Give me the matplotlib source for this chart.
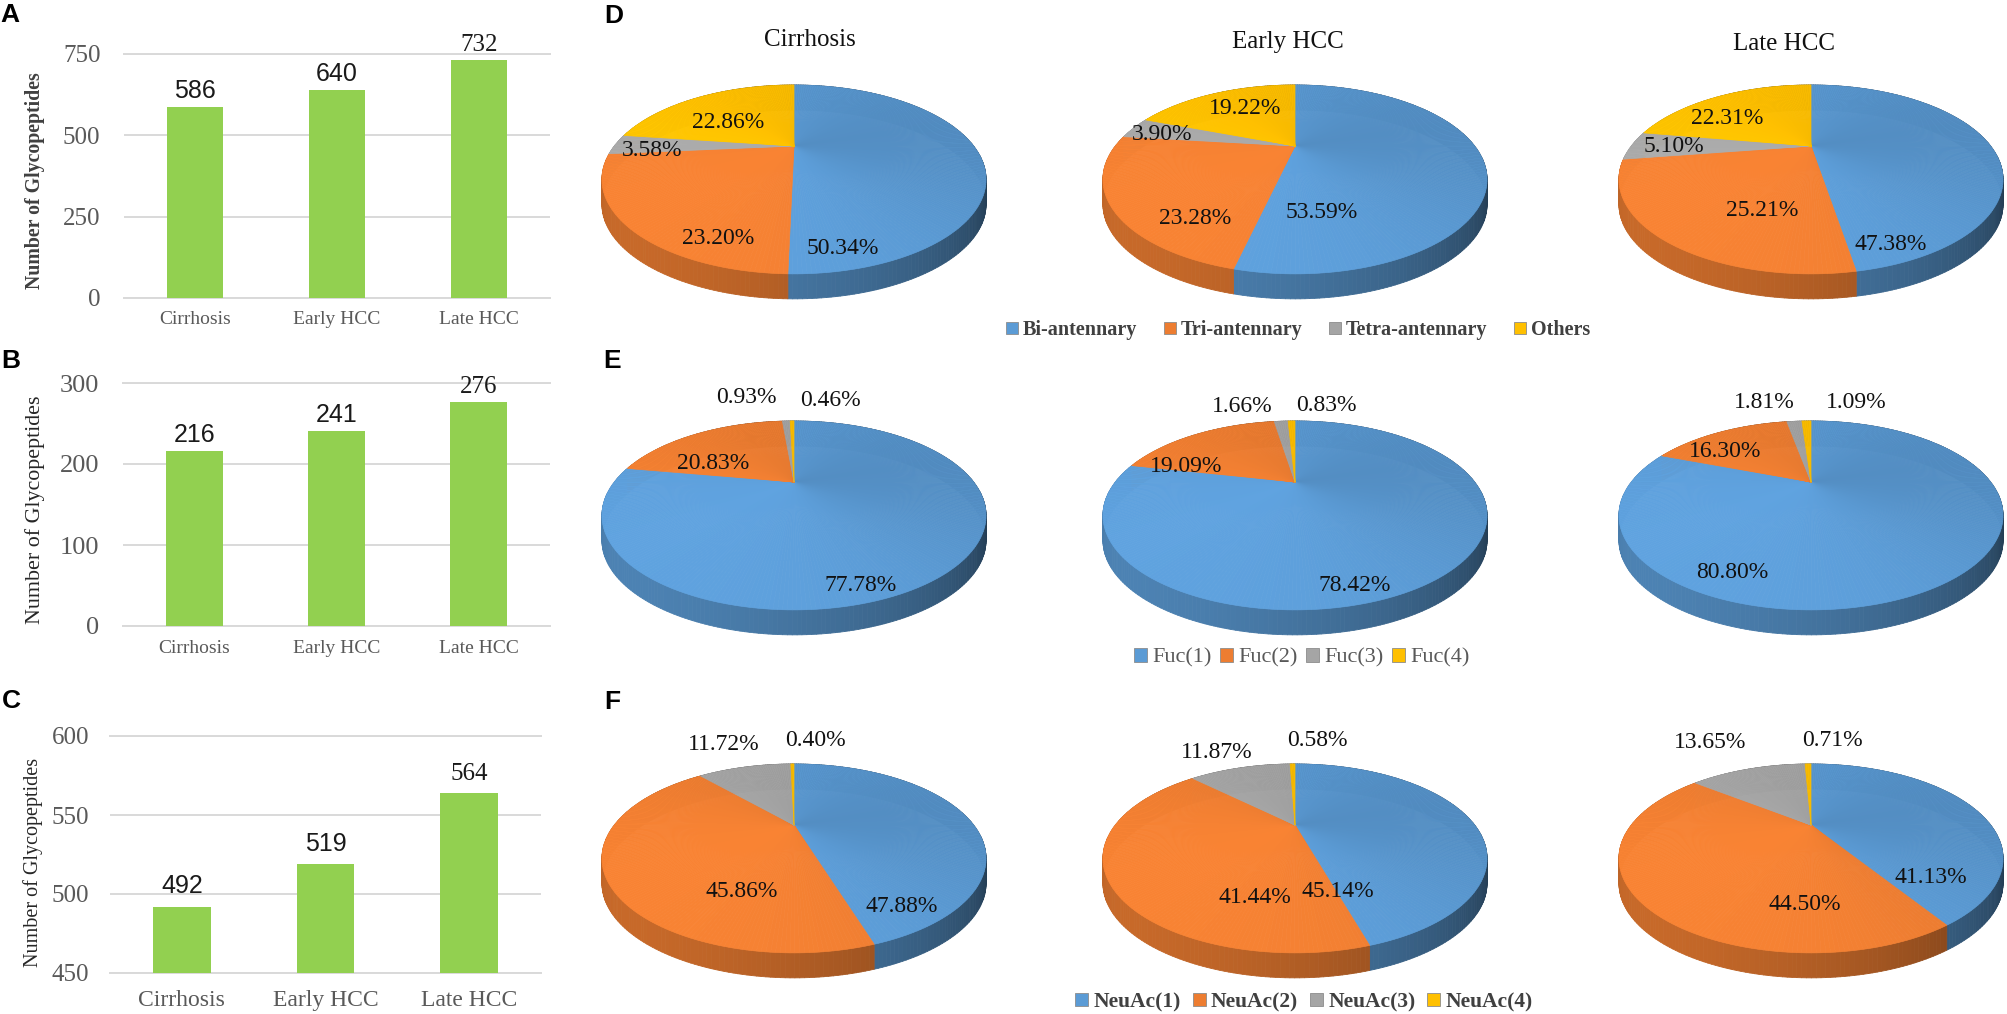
import numpy as np
import matplotlib
matplotlib.use('Agg')
import matplotlib.pyplot as plt
from matplotlib.patches import Patch
from matplotlib.collections import PolyCollection
from matplotlib.colors import to_rgb

# ---------------- data ----------------
groups = ['Cirrhosis', 'Early HCC', 'Late HCC']
bar_A = [586, 640, 732]
bar_B = [216, 241, 276]
bar_C = [492, 519, 564]

antenna_labels = ['Bi-antennary', 'Tri-antennary', 'Tetra-antennary', 'Others']
antenna_cirrhosis = [50.34, 23.20, 3.58, 22.86]
antenna_early = [53.59, 23.28, 3.90, 19.22]
antenna_late = [47.38, 25.21, 5.10, 22.31]

fuc_labels = ['Fuc(1)', 'Fuc(2)', 'Fuc(3)', 'Fuc(4)']
fuc_cirrhosis = [77.78, 20.83, 0.93, 0.46]
fuc_early = [78.42, 19.09, 1.66, 0.83]
fuc_late = [80.80, 16.30, 1.81, 1.09]

neuac_labels = ['NeuAc(1)', 'NeuAc(2)', 'NeuAc(3)', 'NeuAc(4)']
neuac_cirrhosis = [47.88, 45.86, 11.72, 0.40]
neuac_early = [45.14, 41.44, 11.87, 0.58]
neuac_late = [41.13, 44.50, 13.65, 0.71]

# ---------------- style / layout ----------------
W, H = 2008, 1014
SERIF = 'Liberation Serif'
SANS = 'Liberation Sans'
GREEN = '#92D050'
GRID = '#D9D9D9'
TXT = '#595959'
SLICE_COLORS = ['#5B9BD5', '#ED7D31', '#A5A5A5', '#FFC000']

fig = plt.figure(figsize=(W / 100, H / 100), dpi=100)


def rect(l, t, r, b):
    return [l / W, 1 - b / H, (r - l) / W, (b - t) / H]


def ftxt(x, y, s, **kw):
    fig.text(x / W, 1 - y / H, s, **kw)


def bar_panel(box, vals, ylim, yticks, xfs, ytfs, ypad, xpad, off):
    ax = fig.add_axes(rect(*box))
    x = np.arange(len(groups))
    ax.bar(x, vals, width=0.4, color=GREEN, zorder=3)
    ax.set_xlim(-0.5, len(groups) - 0.5)
    ax.set_ylim(*ylim)
    ax.set_yticks(yticks)
    ax.yaxis.grid(True, color=GRID, lw=1.4, zorder=0)
    for s in ['left', 'right']:
        ax.spines[s].set_visible(False)
    for s in ['top', 'bottom']:
        ax.spines[s].set_color(GRID)
        ax.spines[s].set_linewidth(1.4)
    ax.set_xticks(x)
    ax.set_xticklabels(groups, fontsize=xfs, family=SERIF, color=TXT)
    for t in ax.get_yticklabels():
        t.set_fontsize(ytfs)
        t.set_family(SERIF)
        t.set_color(TXT)
    ax.tick_params(axis='y', length=0, pad=ypad)
    ax.tick_params(axis='x', length=0, pad=xpad)
    for i, v in enumerate(vals):
        fam = SERIF if i == len(vals) - 1 else SANS
        ax.annotate(str(v), (i, v), xytext=(0, off), textcoords='offset points',
                    ha='center', va='bottom', fontsize=18, family=fam, color='#1a1a1a')
    return ax


bar_panel((124, 54, 550, 298), bar_A, (0, 750), [0, 250, 500, 750], 14, 18, 17, 9, 3)
bar_panel((123, 383, 550, 626), bar_B, (0, 300), [0, 100, 200, 300], 14, 19, 17, 10, 3)
bar_panel((110, 736, 541, 973), bar_C, (450, 600), [450, 500, 550, 600], 17, 18, 15, 12, 6)

ftxt(35, 181, 'Number of Glycopeptides', rotation=90, ha='center', va='center',
     fontsize=14.3, family=SERIF, fontweight='bold', color='#404040')
ftxt(35, 510, 'Number of Glycopeptides', rotation=90, ha='center', va='center',
     fontsize=15.8, family=SERIF, color='#262626')
ftxt(33, 862, 'Number of Glycopeptides', rotation=90, ha='center', va='center',
     fontsize=14.5, family=SERIF, color='#262626')

# ---------------- 3D pies ----------------
K, WX, CY, DEPTH = 0.354, 179.6, 82.6, 25


def proj(phi):
    u = np.sin(phi)
    v = np.cos(phi)
    den = 1 + K * v
    return WX * u / den, CY * v / den


def shade(c, phi):
    f = 0.52 + 0.32 * np.cos(phi - np.deg2rad(225))
    f = np.clip(f, 0.38, 0.9)
    return tuple(np.array(to_rgb(c)) * f)


def face_shade(c, phi):
    f = 1.0 + 0.05 * np.cos(phi - np.deg2rad(230)) - 0.04 * max(0.0, np.sin(phi)) ** 2
    return tuple(np.clip(np.array(to_rgb(c)) * f, 0, 1))


def pie3d(ax_x, ax_y, vals, label_pos):
    ax = fig.add_axes(rect(ax_x - 220, ax_y - 70, ax_x + 220, ax_y + 190))
    ax.set_xlim(-220, 220)
    ax.set_ylim(-190, 70)
    ax.axis('off')
    frac = np.array(vals) / np.sum(vals)
    edges = np.concatenate([[0], np.cumsum(frac)]) * 2 * np.pi
    side_polys, side_cols = [], []
    face_polys, face_cols = [], []
    for i in range(len(vals)):
        e0, e1 = edges[i], edges[i + 1]
        n = max(2, int(np.ceil((e1 - e0) / (2 * np.pi) * 360))) + 1
        phis = np.linspace(e0, e1, n)
        for a, b in zip(phis[:-1], phis[1:]):
            xa, ya = proj(a)
            xb, yb = proj(b)
            side_polys.append([(xa, ya), (xb, yb), (xb, yb - DEPTH), (xa, ya - DEPTH)])
            side_cols.append(shade(SLICE_COLORS[i], 0.5 * (a + b)))
            face_polys.append([(0, 0), (xa, ya), (xb, yb)])
            face_cols.append(face_shade(SLICE_COLORS[i], 0.5 * (a + b)))
    ax.add_collection(PolyCollection(side_polys, facecolors=side_cols,
                                     edgecolors=side_cols, linewidths=0.6))
    ax.add_collection(PolyCollection(face_polys, facecolors=face_cols,
                                     edgecolors=face_cols, linewidths=0.5))
    for v, (lx, ly) in zip(vals, label_pos):
        ax.text(lx - ax_x, ax_y - ly, f'{v:.2f}%', ha='center', va='center',
                fontsize=17, family=SERIF, color='#111111', clip_on=False)


apex_x = [794, 1295, 1811]
apex_y = [146, 482, 825]

pos_D = [[(843, 248), (718, 238), (652, 150), (728, 123)],
         [(1322, 213), (1195, 218), (1162, 135), (1245, 108)],
         [(1891, 245), (1762, 210), (1674, 147), (1727, 118)]]
pos_E = [[(861, 585), (713, 463), (746, 397), (830, 400)],
         [(1355, 585), (1186, 466), (1242, 406), (1326, 405)],
         [(1732, 572), (1725, 451), (1764, 402), (1856, 402)]]
pos_F = [[(902, 907), (742, 892), (724, 745), (815, 741)],
         [(1338, 892), (1255, 898), (1217, 752), (1317, 741)],
         [(1931, 878), (1805, 905), (1710, 743), (1832, 740)]]

rows = [([antenna_cirrhosis, antenna_early, antenna_late], pos_D),
        ([fuc_cirrhosis, fuc_early, fuc_late], pos_E),
        ([neuac_cirrhosis, neuac_early, neuac_late], pos_F)]
for r, (series, positions) in enumerate(rows):
    for c in range(3):
        pie3d(apex_x[c], apex_y[r], series[c], positions[c])

for x, y, t in zip([810, 1288, 1784], [40, 42, 44], groups):
    ftxt(x, y, t, ha='center', va='center', fontsize=18, family=SERIF, color='#111111')


def legend(labels, cx, cy, bold, fs, colsp, color):
    handles = [Patch(facecolor=c, edgecolor='#8c8c8c', lw=0.6) for c in SLICE_COLORS]
    fig.legend(handles, labels, loc='center', bbox_to_anchor=(cx / W, 1 - cy / H),
               ncol=4, frameon=False, handlelength=0.6, handleheight=0.6,
               handletextpad=0.25, columnspacing=colsp, borderpad=0, labelcolor=color,
               prop={'family': SERIF, 'size': fs, 'weight': 'bold' if bold else 'normal'})


legend(antenna_labels, 1298, 330, True, 14.5, 1.3, '#404040')
legend(fuc_labels, 1302, 658, False, 16, 0.35, TXT)
legend(neuac_labels, 1304, 1002, True, 15.5, 0.55, '#404040')

# ---------------- panel letters ----------------
for x, y, t in [(10, 15, 'A'), (11, 361, 'B'), (11, 701, 'C'),
                (614, 16, 'D'), (612, 361, 'E'), (612, 702, 'F')]:
    ftxt(x, y, t, ha='center', va='center', fontsize=19, fontweight='bold',
         family=SANS, color='black')

fig.savefig('out.png', dpi=100)
